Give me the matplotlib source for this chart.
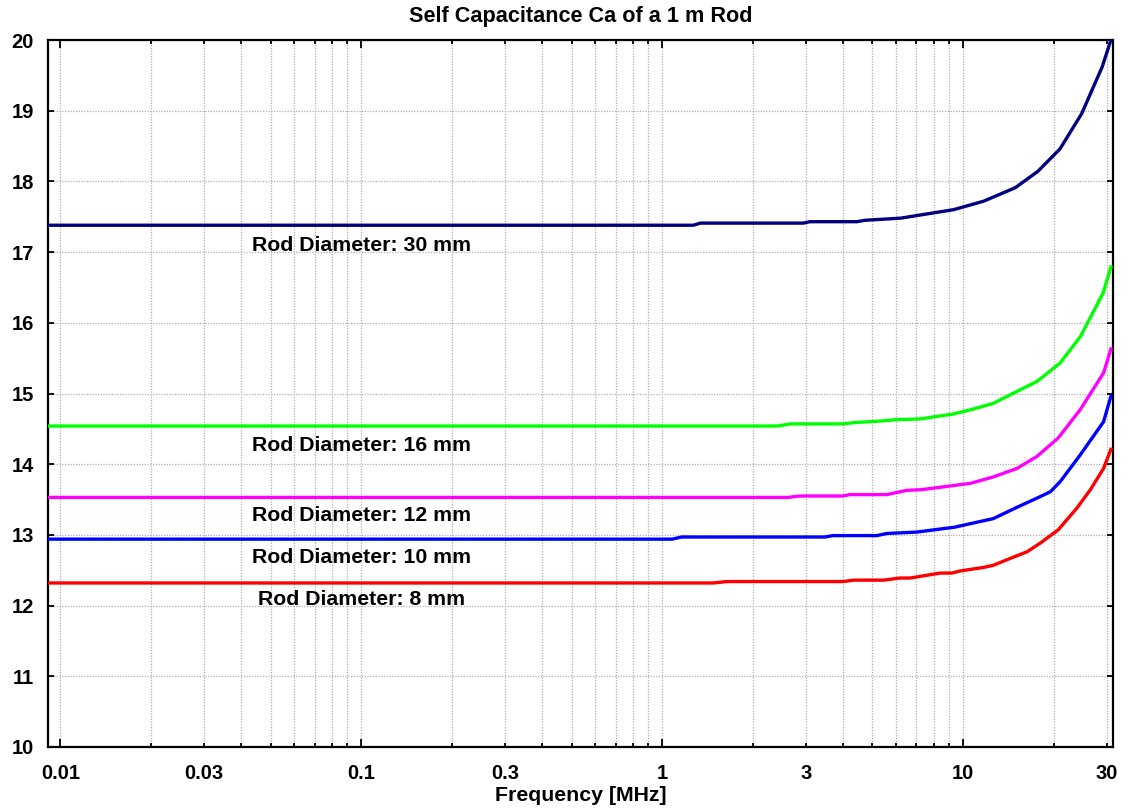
import matplotlib
matplotlib.use("Agg")
import matplotlib.pyplot as plt
from matplotlib.ticker import FixedLocator, FuncFormatter

# ---------------- data ----------------
freq_30 = [0.0091, 1.27, 1.34, 2.94, 3.10, 4.44, 4.72, 6.2, 9.3, 11.7, 14.9, 17.7, 21.0, 24.8, 29.0, 31.0]
cap_30 = [17.38, 17.38, 17.41, 17.41, 17.43, 17.43, 17.45, 17.48, 17.60, 17.72, 17.91, 18.14, 18.46, 18.96, 19.62, 20.0]

freq_16 = [0.0091, 2.43, 2.66, 3.99, 4.38, 5.3, 6.03, 7.19, 9.26, 10.6, 12.6, 15.1, 17.6, 21.0, 24.5, 29.2, 31.0]
cap_16 = [14.54, 14.54, 14.57, 14.57, 14.59, 14.61, 14.63, 14.64, 14.71, 14.77, 14.86, 15.03, 15.17, 15.43, 15.80, 16.42, 16.79]

freq_12 = [0.0091, 2.62, 2.87, 3.99, 4.2, 5.58, 6.5, 7.29, 10.6, 12.6, 15.1, 17.6, 20.7, 24.5, 29.3, 31.0]
cap_12 = [13.53, 13.53, 13.55, 13.55, 13.57, 13.57, 13.63, 13.64, 13.73, 13.82, 13.94, 14.11, 14.37, 14.77, 15.29, 15.63]

freq_10 = [0.0091, 1.08, 1.16, 3.47, 3.70, 5.17, 5.58, 7.02, 9.4, 10.6, 12.6, 15.1, 17.6, 19.5, 21.0, 24.5, 29.3, 31.0]
cap_10 = [12.94, 12.94, 12.97, 12.97, 12.99, 12.99, 13.02, 13.04, 13.11, 13.16, 13.23, 13.39, 13.52, 13.61, 13.75, 14.13, 14.60, 14.96]

freq_8 = [0.0091, 1.48, 1.64, 4.00, 4.32, 5.44, 6.17, 6.67, 8.39, 9.18, 9.78, 11.7, 12.6, 14.4, 16.3, 18.0, 20.7, 23.9, 26.5, 29.3, 31.0]
cap_8 = [12.32, 12.32, 12.34, 12.34, 12.36, 12.36, 12.39, 12.39, 12.46, 12.46, 12.49, 12.54, 12.57, 12.67, 12.76, 12.88, 13.07, 13.38, 13.64, 13.94, 14.21]

series_labels = ["Rod Diameter: 30 mm", "Rod Diameter: 16 mm", "Rod Diameter: 12 mm",
                 "Rod Diameter: 10 mm", "Rod Diameter: 8 mm"]
label_freq = [0.1, 0.1, 0.1, 0.1, 0.1]
label_cap = [17.10, 14.27, 13.28, 12.68, 12.08]

x_major = [0.01, 0.1, 1, 10]
x_minor = [m * d for d in [0.001, 0.01, 0.1, 1, 10] for m in range(2, 10)]
x_minor_labels = {0.03: "0.03", 0.3: "0.3", 3: "3", 30: "30"}
x_major_labels = ["0.01", "0.1", "1", "10"]
y_ticks = list(range(10, 21))

title = "Self Capacitance Ca of a 1 m Rod"
xlabel = "Frequency [MHz]"

# ---------------- plotting ----------------
plt.rcParams['font.family'] = ['Liberation Sans', 'DejaVu Sans']
plt.rcParams['font.weight'] = 'bold'
FS = 14.5
FS_TXT = 15.3
FS_TITLE = 15.6

fig = plt.figure(figsize=(11.32, 8.11), dpi=100)
ax = fig.add_axes([48 / 1132, (811 - 747) / 811, (1113 - 48) / 1132, (747 - 40) / 811])

colors = ['#000080', '#00ff00', '#ff00ff', '#0000ff', '#ff0000']
series = [(freq_30, cap_30), (freq_16, cap_16), (freq_12, cap_12), (freq_10, cap_10), (freq_8, cap_8)]
for (f, c), col in zip(series, colors):
    ax.plot(f, c, color=col, lw=2.4, solid_joinstyle='round', zorder=3)

for lab, lf, lc in zip(series_labels, label_freq, label_cap):
    ax.text(lf, lc, lab, ha='center', va='center', fontsize=FS_TXT, fontweight='bold', zorder=4)

ax.set_xscale('log')
ax.set_xlim(0.0091, 31.5)
ax.set_ylim(10, 20)

ax.xaxis.set_major_locator(FixedLocator(x_major))
ax.xaxis.set_major_formatter(FuncFormatter(lambda v, p: x_major_labels[x_major.index(min(x_major, key=lambda m: abs(m - v)))]))
x_minor_vis = [v for v in x_minor if 0.0091 <= v <= 31.5]
ax.xaxis.set_minor_locator(FixedLocator(x_minor_vis))


def minor_fmt(v, p):
    for k, s in x_minor_labels.items():
        if abs(v - k) / k < 1e-6:
            return s
    return ""


ax.xaxis.set_minor_formatter(FuncFormatter(minor_fmt))
ax.set_yticks(y_ticks)

ax.tick_params(axis='x', which='both', direction='in', top=True, bottom=True,
               labelsize=FS, pad=12.5, width=1.3)
ax.tick_params(axis='x', which='major', length=5.5)
ax.tick_params(axis='x', which='minor', length=3)
ax.tick_params(axis='y', which='major', direction='in', left=True, right=True,
               labelsize=FS, pad=10, length=4.5, width=1.3)

for lab in ax.get_xticklabels(which='both') + ax.get_yticklabels():
    lab.set_fontweight('bold')

ax.grid(True, which='major', axis='both', color='#b0b0b0', linestyle=(0, (1, 1.2)), lw=0.9)
ax.grid(True, which='minor', axis='x', color='#b0b0b0', linestyle=(0, (1, 1.2)), lw=0.9)
ax.set_axisbelow(True)

for s in ax.spines.values():
    s.set_linewidth(1.6)
    s.set_color('black')

ax.set_title(title, fontsize=FS_TITLE, fontweight='bold', pad=13)
ax.set_xlabel(xlabel, fontsize=FS_TXT, fontweight='bold', labelpad=2)

fig.savefig("out.png", dpi=100)
